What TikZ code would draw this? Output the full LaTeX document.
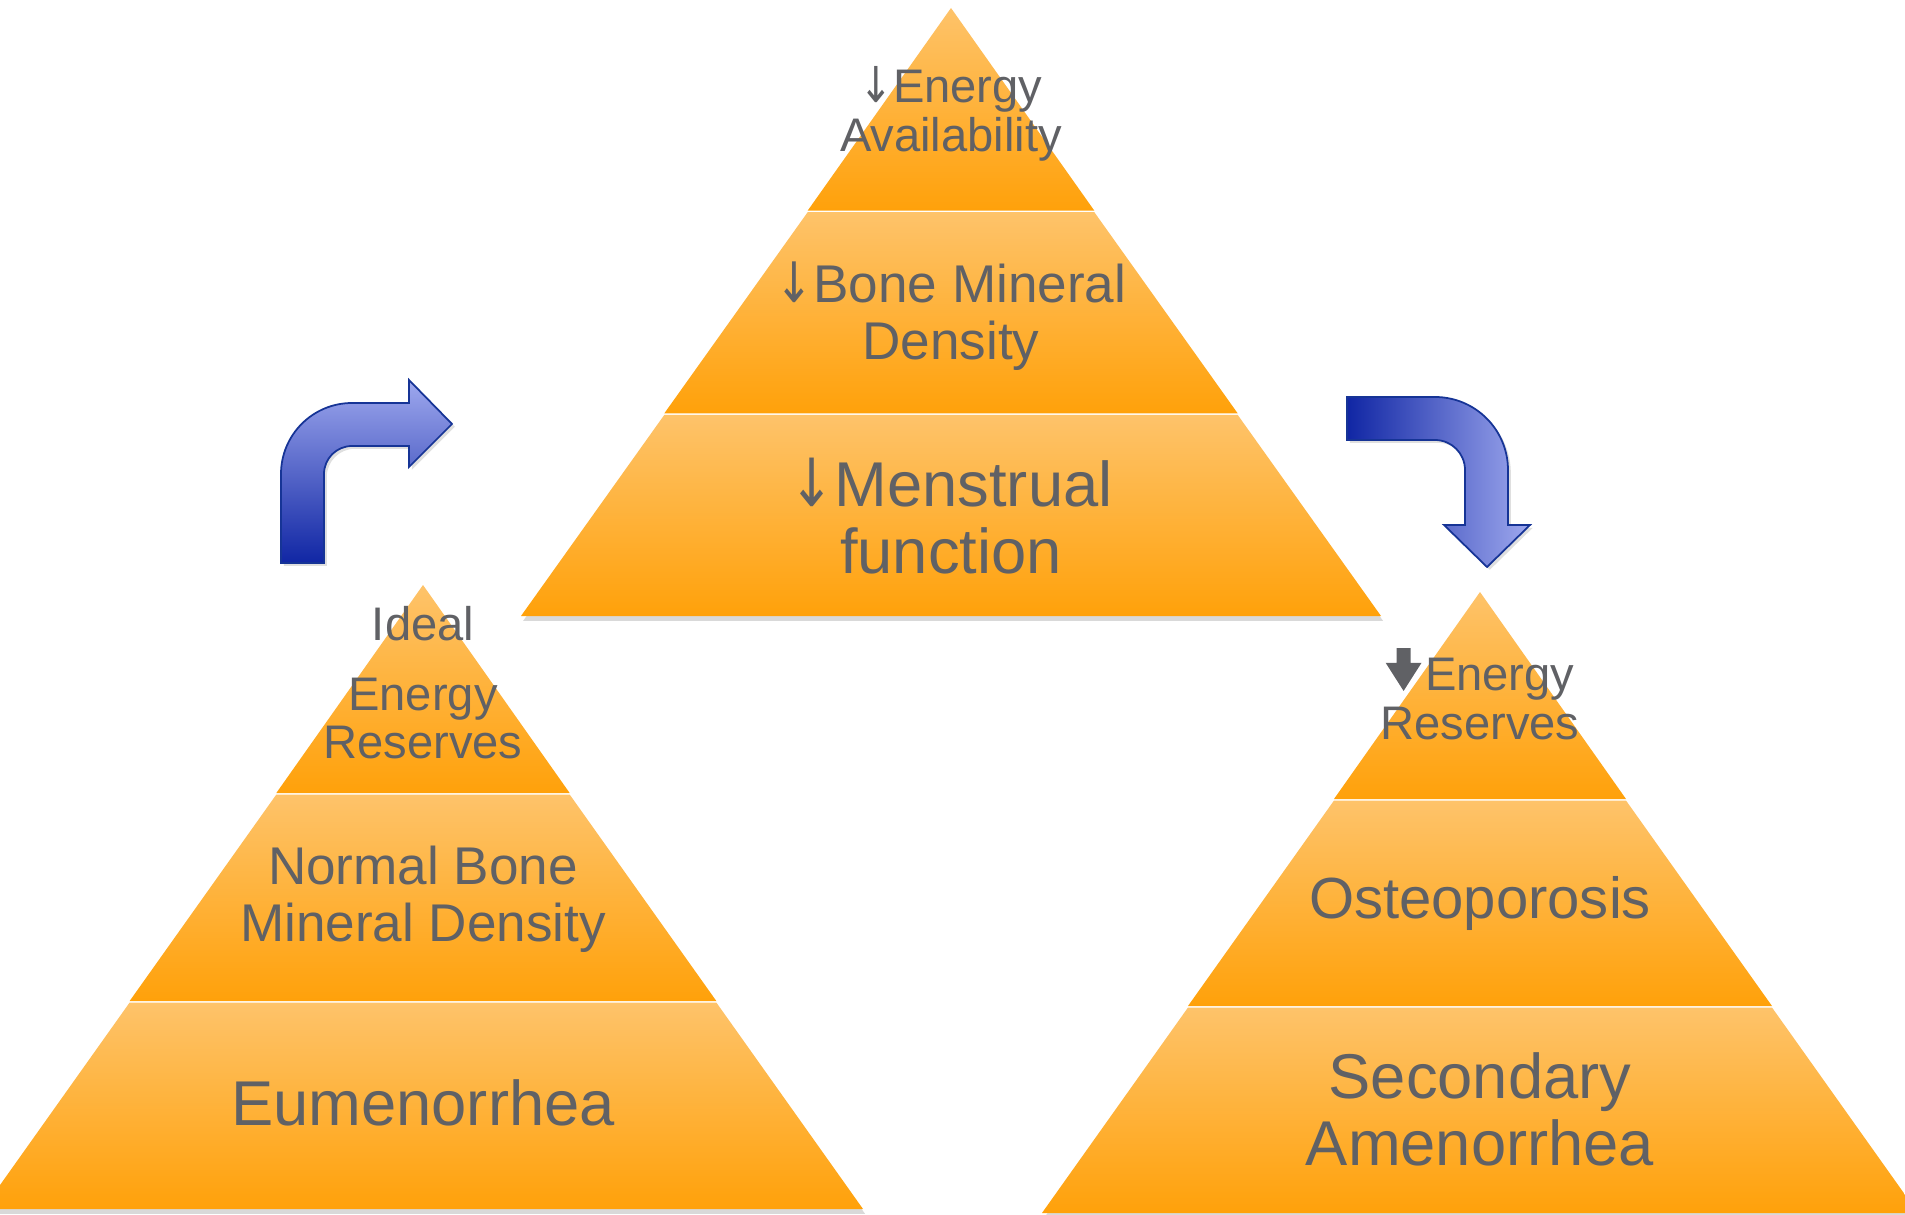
\documentclass[tikz,border=0pt]{standalone}
\usepackage{fontspec}
\setmainfont{Liberation Sans}
\newfontfamily\symfont{DejaVu Sans}
\usetikzlibrary{shadows}
\definecolor{BandTop}{RGB}{254,195,106}
\definecolor{BandBottom}{RGB}{255,161,10}
\definecolor{LabelGray}{RGB}{96,97,101}
\definecolor{ArrowDark}{RGB}{16,38,164}
\definecolor{ArrowLight}{RGB}{158,168,238}
\definecolor{ArrowEdge}{RGB}{22,52,150}
\newcommand{\dn}{{\symfont\scalebox{0.85}[1.05]{↓}}}
\newcommand{\heavydn}{\tikz[baseline=0pt,x=1pt,y=1pt]\fill[LabelGray]
  (-2,12.2) -- (2,12.2) -- (2,8) -- (5.1,8) -- (0,0) -- (-5.1,8) -- (-2,8) -- cycle;\hspace{1pt}}
\tikzset{
  band/.style={top color=BandTop,bottom color=BandBottom,draw=none},
  baseband/.style={band,drop shadow={opacity=0.3,shadow xshift=0.6pt,shadow yshift=-1.4pt}},
  lbl/.style={text=LabelGray,align=center,inner sep=0pt},
  lblS/.style={lbl,font=\fontsize{13.4}{13.8}\selectfont},
  lblM/.style={lbl,font=\fontsize{15.1}{16.2}\selectfont},
  lblO/.style={lbl,font=\fontsize{16.5}{18}\selectfont},
  lblL/.style={lbl,font=\fontsize{18}{19}\selectfont},
  bendarrow/.style={draw=ArrowEdge,line width=0.5pt,
    drop shadow={opacity=0.25,shadow xshift=0.8pt,shadow yshift=-0.8pt}},
}

\begin{document}
\begin{tikzpicture}[x=0.01cm,y=0.01cm]
  \useasboundingbox (0,0) rectangle (1905,1214);
  \clip (0,0) rectangle (1905,1214);

  % three pyramids: apex x, apex y, base y, half base
  \foreach \cx/\ya/\yb/\w in {951/1206/598/430,423/629/5/440,1480/622/1/438}{
    \foreach \i/\sty in {0/band,1/band,2/baseband}{
      \pgfmathsetmacro\hh{(\ya-\yb)/3}
      \pgfmathsetmacro\yt{\ya-\i*\hh-1.5*min(\i,1)}
      \pgfmathsetmacro\ybt{\ya-(\i+1)*\hh}
      \pgfmathsetmacro\wt{\w*\i/3}
      \pgfmathsetmacro\wb{\w*(\i+1)/3}
      \path[\sty] (\cx-\wt,\yt) -- (\cx+\wt,\yt) -- (\cx+\wb,\ybt) -- (\cx-\wb,\ybt) -- cycle;
    }
  }

  % centre pyramid
  \node[lblS] (ea) at (951,1100) {\dn Energy\\Availability};
  \node[lblM] (bmd) at (951,898) {\dn Bone Mineral\\Density};
  \node[lblL] (mf) at (951,698) {\dn Menstrual\\function};

  % left pyramid
  \node[lblS] (ideal) at (423,531) {Ideal\\[6pt]Energy\\Reserves};
  \node[lblM] (nbmd) at (423,315) {Normal Bone\\Mineral Density};
  \node[lblL] (eum) at (423,111) {Eumenorrhea};

  % right pyramid
  \node[lblS] (er) at (1480,520) {\heavydn Energy\\Reserves};
  \node[lblO] (osteo) at (1480,311) {Osteoporosis};
  \node[lblL] (sa) at (1480,105) {Secondary\\Amenorrhea};

  % bent arrows
  \path[bendarrow,top color=ArrowLight,bottom color=ArrowDark]
    (281,651) -- (281,740) arc[start angle=180,end angle=90,radius=71]
    -- (409,811) -- (409,834) -- (452,790) -- (409,747) -- (409,768)
    -- (352,768) arc[start angle=90,end angle=180,radius=28] -- (324,651) -- cycle;
  \path[bendarrow,left color=ArrowDark,right color=ArrowLight]
    (1347,817) -- (1435,817) arc[start angle=90,end angle=0,radius=73]
    -- (1508,689) -- (1530,689) -- (1487,647) -- (1444,689) -- (1465,689)
    -- (1465,744) arc[start angle=0,end angle=90,radius=30] -- (1347,774) -- cycle;
\end{tikzpicture}
\end{document}
